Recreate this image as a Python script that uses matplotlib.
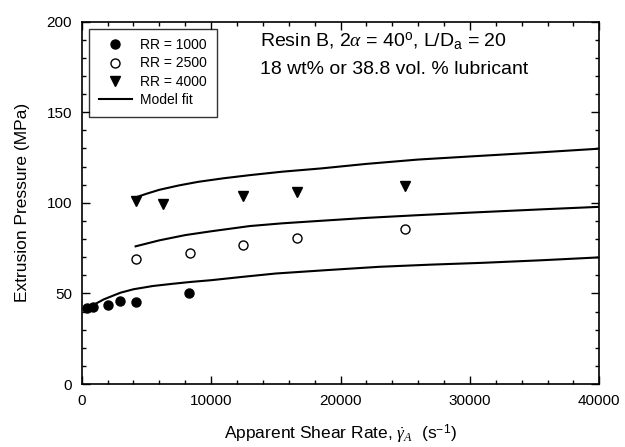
import matplotlib
matplotlib.use('Agg')
from matplotlib import pyplot as plt
from matplotlib.ticker import MultipleLocator

plt.rcParams['font.family'] = ['Liberation Sans', 'DejaVu Sans']
plt.rcParams['mathtext.fontset'] = 'custom'
plt.rcParams['mathtext.rm'] = 'Liberation Sans'
plt.rcParams['mathtext.it'] = 'Liberation Serif:italic'
plt.rcParams['mathtext.sf'] = 'Liberation Sans'

# measured points
x1000 = [420, 900, 2000, 2950, 4170, 8330]
y1000 = [41.8, 42.3, 43.4, 46.0, 45.3, 50.4]

x2500 = [4167, 8333, 12500, 16667, 25000]
y2500 = [68.8, 72.1, 76.7, 80.4, 85.4]

x4000 = [4167, 6250, 12500, 16667, 25000]
y4000 = [101.2, 99.3, 103.8, 106.1, 109.3]

# model fit curves
xfit1 = [420, 1000, 1700, 2500, 3000, 4000, 5500, 7000, 8500, 10000, 12500, 15000,
         19000, 23000, 27000, 31000, 35500, 40000]
yfit1 = [41.8, 44.0, 46.7, 49.0, 50.4, 52.3, 54.1, 55.3, 56.4, 57.3, 59.2, 61.0,
         62.9, 64.7, 65.9, 66.9, 68.3, 69.9]
xfit2 = [4167, 6000, 8000, 10000, 13000, 15500, 18500, 22000, 26000, 30000, 35500, 40000]
yfit2 = [76.0, 79.3, 82.2, 84.3, 87.2, 88.7, 90.1, 91.7, 93.2, 94.6, 96.4, 97.8]
xfit3 = [4167, 5000, 6000, 7500, 9000, 11000, 13000, 15500, 18500, 22000, 26000,
         30000, 35500, 40000]
yfit3 = [103.0, 105.0, 107.2, 109.6, 111.6, 113.6, 115.3, 117.2, 119.0, 121.5, 123.9,
         125.6, 127.9, 129.9]

fig = plt.figure(figsize=(6.25, 4.47), dpi=100)
ax = fig.add_axes([0.1307, 0.1409, 0.8282, 0.8106])

ax.plot(x1000, y1000, 'o', color='black', markersize=6.5, linestyle='none', label='RR = 1000', zorder=3)
ax.plot(x2500, y2500, 'o', markerfacecolor='white', markeredgecolor='black', markeredgewidth=1,
        markersize=6.5, linestyle='none', label='RR = 2500', zorder=3)
ax.plot(x4000, y4000, 'v', color='black', markersize=7, linestyle='none', label='RR = 4000', zorder=3)
ax.plot(xfit1, yfit1, color='black', linewidth=1.5, label='Model fit', zorder=2)
ax.plot(xfit2, yfit2, color='black', linewidth=1.5, zorder=2)
ax.plot(xfit3, yfit3, color='black', linewidth=1.5, zorder=2)

ax.set_xlim(0, 40000)
ax.set_ylim(0, 200)
ax.xaxis.set_major_locator(MultipleLocator(10000))
ax.xaxis.set_minor_locator(MultipleLocator(2000))
ax.yaxis.set_major_locator(MultipleLocator(50))
ax.yaxis.set_minor_locator(MultipleLocator(10))
ax.tick_params(which='both', direction='in', top=True, right=True, labelsize=11, width=1)
ax.tick_params(which='major', length=6, pad=7)
ax.tick_params(which='minor', length=3)
for s in ax.spines.values():
    s.set_linewidth(1.2)

ax.set_xlabel(r'Apparent Shear Rate, $\dot{\gamma}_{A}$  (s$^{\mathrm{-1}}$)', fontsize=12.5, labelpad=11)
ax.set_ylabel('Extrusion Pressure (MPa)', fontsize=12.5, labelpad=12)

ax.text(13780, 189.5, r'Resin B, 2$\alpha$ = 40$^{\mathrm{o}}$, L/D$_{\mathrm{a}}$ = 20', fontsize=14, va='center')
ax.text(13780, 173.5, '18 wt% or 38.8 vol. % lubricant', fontsize=14, va='center')

leg = ax.legend(loc='upper left', bbox_to_anchor=(0.014, 0.981), fontsize=10, frameon=True,
                fancybox=False, edgecolor='black', borderaxespad=0, handlelength=2.4,
                labelspacing=0.3, borderpad=0.7, handletextpad=0.6)
leg.get_frame().set_linewidth(1)

fig.savefig('out.png', dpi=100)
